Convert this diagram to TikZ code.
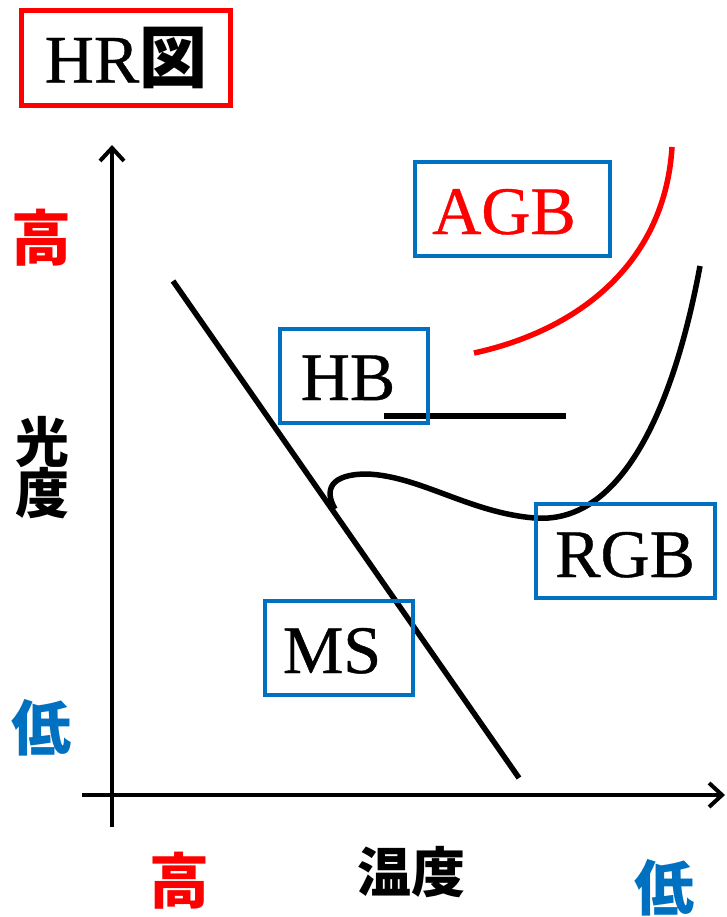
\documentclass[tikz,border=0pt]{standalone}
\usepackage{fontspec}
\setmainfont{Liberation Serif}
\newfontfamily\lat{Liberation Serif}[FakeBold=0.6]
\newfontfamily\cjk{Noto Sans CJK JP}
\usetikzlibrary{arrows.meta}
\definecolor{ored}{HTML}{FF0000}
\definecolor{oblue}{HTML}{0070C0}
\tikzset{
  bluebox/.style={draw=oblue, line width=4pt, inner sep=0pt, minimum height=94pt},
  boxtext/.style={inner sep=0pt, anchor=base, font=\lat\fontsize{68}{80}\selectfont},
  axisline/.style={line width=4pt, -{Straight Barb[length=13pt,width=24pt]}},
  track/.style={line width=5.5pt},
  bigcjk/.style={inner sep=0pt, font=\cjk\bfseries\fontsize{60}{70}\selectfont},
  midcjk/.style={inner sep=0pt, font=\cjk\bfseries\fontsize{54}{64}\selectfont},
}
\begin{document}
\begin{tikzpicture}[x=1pt,y=-1pt]
\useasboundingbox[fill=white] (0,0) rectangle (726,917);

% title
\node[draw=ored, line width=5pt, minimum width=209pt, minimum height=95pt, inner sep=0pt,
      font=\lat\fontsize{68}{80}\selectfont] (title) at (126,58) {HR{\cjk\bfseries 図}};

% axes
\coordinate (yb) at (112,827);
\coordinate (yt) at (112,145);
\coordinate (xl) at (82,795);
\coordinate (xr) at (725,795);
\draw[axisline] (yb) -- (yt);
\draw[axisline] (xl) -- (xr);

% axis labels
\node[bigcjk, text=ored] (lhigh) at (42,238) {高};
\node[midcjk] (lum1) at (42,442) {光};
\node[midcjk] (lum2) at (42,493) {度};
\node[bigcjk, text=oblue] (llow) at (42,728) {低};
\node[bigcjk, text=ored] (thigh) at (179,881) {高};
\node[midcjk] (temp) at (411,872) {温度};
\node[bigcjk, text=oblue] (tlow) at (664,888) {低};

% main sequence
\coordinate (ms1) at (173,281);
\coordinate (ms2) at (519,778);
\draw[track] (ms1) -- (ms2);

% horizontal branch
\coordinate (hb1) at (384,416);
\coordinate (hb2) at (566,416);
\draw[line width=6pt] (hb1) -- (hb2);

% red giant branch
\coordinate (rg0) at (335,509);
\coordinate (rg1) at (367,474);
\coordinate (rg2) at (535,518);
\coordinate (rg3) at (700,266);
\draw[track] (rg0) .. controls (324,490) and (330,474) .. (rg1)
  .. controls (420,476) and (470,513) .. (rg2)
  .. controls (630,525) and (678,385) .. (rg3);

% asymptotic giant branch
\coordinate (ag1) at (474,353);
\coordinate (ag2) at (672,147);
\draw[track, ored] (ag1) .. controls (580,330) and (665,262) .. (ag2);

% boxes
\node[bluebox, minimum width=195pt] (agb) at (512.5,209) {};
\node[bluebox, minimum width=148pt] (hb) at (354,376) {};
\node[bluebox, minimum width=179pt] (rgb) at (625.5,551) {};
\node[bluebox, minimum width=148pt] (ms) at (339,648) {};
\node[boxtext, text=ored] (agbt) at (504,234) {AGB};
\node[boxtext] (hbt) at (348,400) {HB};
\node[boxtext] (rgbt) at (625,577) {RGB};
\node[boxtext] (mst) at (332,673) {MS};
\end{tikzpicture}
\end{document}
